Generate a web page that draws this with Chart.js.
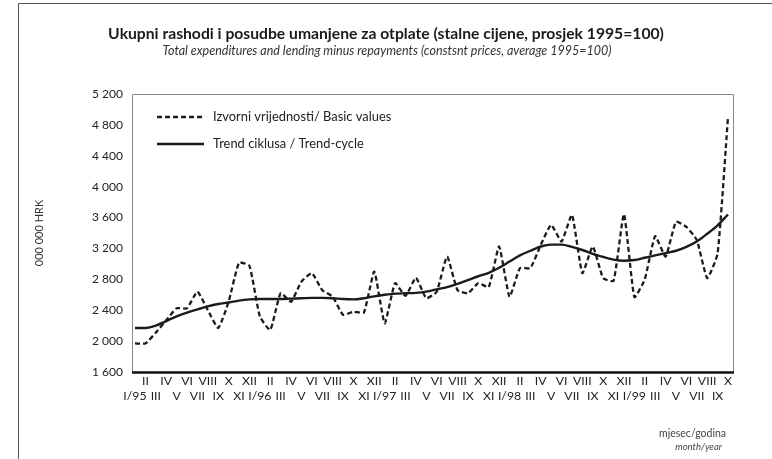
<!DOCTYPE html>
<html><head><meta charset="utf-8">
<script src="https://cdn.jsdelivr.net/npm/chart.js@4/dist/chart.umd.min.js"></script>
<style>html,body{margin:0;padding:0;background:#fff}#wrap{width:772px;height:459px}</style>
</head><body><div id="wrap"><canvas id="c" width="772" height="459"></canvas></div>
<script>
const months = ['I','II','III','IV','V','VI','VII','VIII','IX','X','XI','XII'];
const years = ['95','96','97','98','99'];
const lastMonthIndex = 9; // X/99

const basicValues = [
  1970,1970,2110,2270,2425,2425,2640,2400,2170,2510,3015,2975,
  2320,2145,2620,2510,2770,2880,2660,2575,2340,2380,2370,2900,
  2230,2750,2585,2820,2555,2640,3095,2660,2620,2750,2700,3225,
  2575,2945,2945,3245,3505,3290,3635,2880,3225,2815,2780,3645,
  2570,2800,3360,3095,3545,3480,3310,2815,3135,4905
];
const trendCycle = [
  2170,2170,2200,2260,2320,2370,2410,2450,2480,2500,2525,2540,
  2545,2545,2545,2550,2555,2560,2560,2555,2545,2540,2555,2580,
  2600,2615,2620,2625,2640,2670,2700,2740,2790,2840,2885,2950,
  3030,3110,3170,3225,3250,3250,3220,3180,3130,3090,3055,3040,
  3050,3080,3110,3140,3170,3220,3290,3390,3500,3640
];
const seriesNames = ['Izvorni vrijednosti/ Basic values','Trend ciklusa / Trend-cycle'];
const yMin = 1600, yMax = 5200, yStep = 400;

const categories = [];
years.forEach((y, yi) => {
  months.forEach((m, mi) => {
    if (yi === years.length - 1 && mi > lastMonthIndex) return;
    categories.push(mi === 0 ? m + '/' + y : m);
  });
});
const tickLabels = categories.map((c, i) => i % 2 === 0 ? ['', c] : [c, '']);

const FONT = 'Lato, "Open Sans", sans-serif';
const ink = '#1b1b1b';

const decor = {
  id: 'decor',
  beforeDraw(chart) {
    const ctx = chart.ctx;
    ctx.save();
    ctx.fillStyle = '#fff';
    ctx.fillRect(0, 0, chart.width, chart.height);
    ctx.strokeStyle = '#555';
    ctx.lineWidth = 1;
    ctx.beginPath();
    ctx.moveTo(18.5, chart.height);
    ctx.lineTo(18.5, 3.5);
    ctx.lineTo(chart.width, 3.5);
    ctx.stroke();
    ctx.restore();
  },
  afterDraw(chart) {
    const {ctx, chartArea: a} = chart;
    ctx.save();
    const L = a.left - 2.5, R = a.right + 5.5, T = a.top + 0.5, B = a.bottom;
    ctx.strokeStyle = '#8a8a8a';
    ctx.lineWidth = 1;
    ctx.beginPath();
    ctx.moveTo(L, B); ctx.lineTo(L, T); ctx.lineTo(R, T); ctx.lineTo(R, B);
    ctx.stroke();
    ctx.strokeStyle = '#111';
    ctx.lineWidth = 2.5;
    ctx.beginPath();
    ctx.moveTo(L - 0.5, B + 0.5); ctx.lineTo(R + 0.5, B + 0.5);
    ctx.stroke();

    ctx.fillStyle = ink;
    ctx.textAlign = 'center';
    ctx.textBaseline = 'middle';
    ctx.font = 'bold 15.7px ' + FONT;
    ctx.fillText('Ukupni rashodi i posudbe umanjene za otplate (stalne cijene, prosjek 1995=100)', 386, 34);
    ctx.font = 'italic 12.5px ' + FONT;
    ctx.fillStyle = '#333';
    ctx.fillText('Total expenditures and lending minus repayments (constsnt prices, average 1995=100)', 387, 51);

    ctx.save();
    ctx.translate(39, 233);
    ctx.rotate(-Math.PI / 2);
    ctx.font = '11px ' + FONT;
    ctx.fillStyle = '#333';
    ctx.fillText('000 000 HRK', 0, 0);
    ctx.restore();

    ctx.font = '10.5px ' + FONT;
    ctx.fillStyle = '#444';
    ctx.textAlign = 'right';
    ctx.fillText('mjesec/godina', 726, 434);
    ctx.font = 'italic 9.5px ' + FONT;
    ctx.fillText('month/year', 722, 447);

    const ys = [117, 144];
    chart.data.datasets.forEach((ds, i) => {
      ctx.strokeStyle = ds.borderColor;
      ctx.lineWidth = ds.borderWidth;
      ctx.setLineDash(ds.borderDash || []);
      ctx.beginPath();
      ctx.moveTo(157, ys[i]); ctx.lineTo(204, ys[i]);
      ctx.stroke();
      ctx.setLineDash([]);
      ctx.fillStyle = '#222';
      ctx.textAlign = 'left';
      ctx.font = '12.9px ' + FONT;
      ctx.fillText(ds.label, 213, ys[i]);
    });
    ctx.restore();
  }
};

new Chart(document.getElementById('c'), {
  type: 'line',
  data: {
    labels: tickLabels,
    datasets: [
      {label: seriesNames[0], data: basicValues, borderColor: ink, borderWidth: 2.3,
       borderDash: [5, 3], pointRadius: 0, tension: 0.15, fill: false},
      {label: seriesNames[1], data: trendCycle, borderColor: ink, borderWidth: 2.4,
       pointRadius: 0, cubicInterpolationMode: 'monotone', fill: false}
    ]
  },
  options: {
    responsive: false,
    devicePixelRatio: 1,
    animation: false,
    clip: 6,
    layout: {padding: {top: 94, right: 44, bottom: 0, left: 0}},
    plugins: {legend: {display: false}, tooltip: {enabled: false}, title: {display: false}},
    scales: {
      x: {
        type: 'category',
        offset: false,
        grid: {display: false, drawTicks: false},
        border: {display: false},
        ticks: {autoSkip: false, maxRotation: 0, minRotation: 0, padding: 2,
                color: '#222', font: {family: FONT, size: 12.3}},
        afterFit(s) { s.height = 87; }
      },
      y: {
        min: yMin, max: yMax,
        grid: {display: false, drawTicks: false},
        border: {display: false},
        ticks: {stepSize: yStep, padding: 12, color: '#222', font: {family: FONT, size: 12},
                callback: v => String(v).replace(/\B(?=(\d{3})+(?!\d))/g, ' ')},
        afterFit(s) { s.width = 135; }
      }
    }
  },
  plugins: [decor]
});
</script>
</body></html>
